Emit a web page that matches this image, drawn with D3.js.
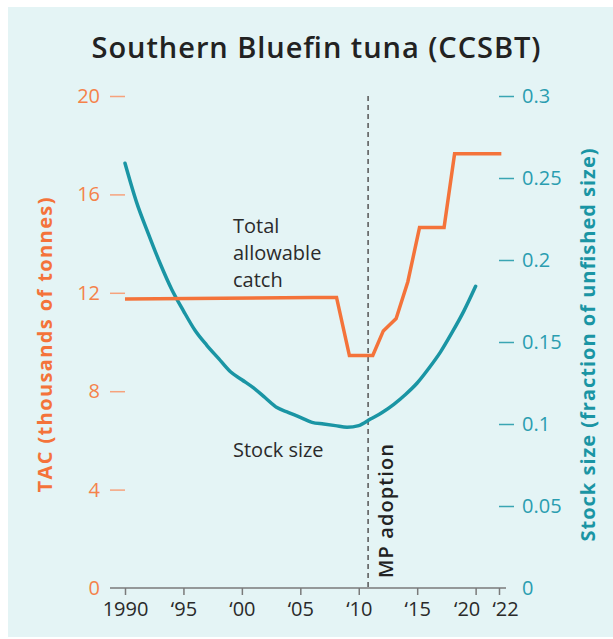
<!DOCTYPE html>
<html>
<head>
<meta charset="utf-8">
<script src="https://cdn.jsdelivr.net/npm/d3@7"></script>
<style>
  body { margin: 0; background: #fff; }
  svg text { font-family: "Open Sans", "Noto Sans", sans-serif; }
</style>
</head>
<body>
<div id="chart"></div>
<script>
// TAC in thousands of tonnes (step line)
var tacYears = [1990, 2006.1, 2008.1, 2009.2, 2011.2, 2012.1, 2013.2, 2014.2, 2015.2, 2017.3, 2018.2, 2022.2];
var tacValues = [11.75, 11.81, 11.81, 9.45, 9.45, 10.45, 10.95, 12.45, 14.65, 14.65, 17.65, 17.65];

// stock size, fraction of unfished
var stockYears = [1990, 1991, 1992, 1993, 1994, 1995, 1996, 1997, 1998, 1999, 2000, 2001, 2002, 2003, 2004, 2005,
  2006, 2007, 2008, 2009, 2010, 2011, 2012, 2013, 2014, 2015, 2016, 2017, 2018, 2019, 2020];
var stockValues = [0.259, 0.235, 0.216, 0.198, 0.182, 0.169, 0.157, 0.148, 0.140, 0.132, 0.127, 0.122, 0.116, 0.110,
  0.107, 0.104, 0.101, 0.100, 0.099, 0.098, 0.099, 0.103, 0.107, 0.112, 0.118, 0.125, 0.134, 0.144, 0.156, 0.169, 0.184];

var xTicks = [1990, 1995, 2000, 2005, 2010, 2015, 2020, 2022];
var tacTicks = [0, 4, 8, 12, 16, 20];
var stockTicks = [0, 0.05, 0.1, 0.15, 0.2, 0.25, 0.3];
var mpYear = 2010.8;

var width = 613, height = 639;
var orange = "#f4733a", teal = "#1a95a4";

var svg = d3.select("#chart").append("svg")
    .attr("width", width)
    .attr("height", height);

svg.append("rect")
    .attr("x", 8).attr("y", 7)
    .attr("width", width - 8).attr("height", 630)
    .attr("fill", "#e4f4f5");

var x = d3.scaleLinear().domain([1990, 2022]).range([125, 499]),
    yL = d3.scaleLinear().domain([0, 20]).range([588, 96]),
    yR = d3.scaleLinear().domain([0, 0.3]).range([588, 96]);

svg.append("text")
    .attr("x", 316).attr("y", 58)
    .attr("text-anchor", "middle")
    .attr("font-size", 29)
    .attr("font-weight", 600)
    .attr("fill", "#222")
    .attr("textLength", 449)
    .attr("lengthAdjust", "spacing")
    .text("Southern Bluefin tuna (CCSBT)");

// x axis
var xAxis = svg.append("g")
    .attr("transform", "translate(0,588)")
    .call(d3.axisBottom(x).tickValues(xTicks).tickSize(7).tickPadding(7)
      .tickFormat(function(d) { return d == 1990 ? "1990" : "\u2018" + String(d).slice(2); }));
xAxis.select(".domain").attr("d", "M110,0H506").attr("stroke", "#7a7a7a").attr("stroke-width", 1.5);
xAxis.selectAll(".tick line").attr("stroke", "#7a7a7a").attr("stroke-width", 1.5);
xAxis.selectAll(".tick text").attr("font-size", 20).attr("fill", "#2a2a2a").attr("font-family", "Open Sans")
    .attr("dx", function(d) { return d == 2020 ? -9 : d == 2022 ? 6 : 0; });

// left axis
var lAxis = svg.append("g")
    .attr("transform", "translate(" + x(1990) + ",0)")
    .call(d3.axisLeft(yL).tickValues(tacTicks).tickSize(15).tickPadding(10));
lAxis.select(".domain").remove();
lAxis.selectAll(".tick line").attr("stroke", "#f6a27c").attr("stroke-width", 1.5);
lAxis.selectAll(".tick text").attr("font-size", 20).attr("fill", "#f5824a").attr("font-family", "Open Sans");
lAxis.selectAll(".tick").filter(function(d) { return d == 0; }).select("line").remove();

// right axis
var rAxis = svg.append("g")
    .attr("transform", "translate(" + x(2022) + ",0)")
    .call(d3.axisRight(yR).tickValues(stockTicks).tickSize(15).tickPadding(8)
      .tickFormat(function(d) { return String(d); }));
rAxis.select(".domain").remove();
rAxis.selectAll(".tick line").attr("stroke", "#3aa5b3").attr("stroke-width", 1.5);
rAxis.selectAll(".tick text").attr("font-size", 20).attr("fill", "#2a9db0").attr("font-family", "Open Sans");
rAxis.selectAll(".tick").filter(function(d) { return d == 0; }).select("line").remove();

// axis titles
svg.append("text")
    .attr("transform", "translate(52,345) rotate(-90)")
    .attr("text-anchor", "middle")
    .attr("font-size", 20)
    .attr("font-weight", 700)
    .attr("fill", orange)
    .attr("textLength", 295)
    .attr("lengthAdjust", "spacing")
    .text("TAC (thousands of tonnes)");

svg.append("text")
    .attr("transform", "translate(595,345) rotate(-90)")
    .attr("text-anchor", "middle")
    .attr("font-size", 20)
    .attr("font-weight", 700)
    .attr("fill", teal)
    .attr("textLength", 393)
    .attr("lengthAdjust", "spacing")
    .text("Stock size (fraction of unfished size)");

// MP adoption line
svg.append("line")
    .attr("x1", x(mpYear)).attr("x2", x(mpYear))
    .attr("y1", yL(20)).attr("y2", yL(0))
    .attr("stroke", "#555")
    .attr("stroke-width", 1.5)
    .attr("stroke-dasharray", "5,4");

svg.append("text")
    .attr("transform", "translate(" + (x(mpYear) + 25) + ",578) rotate(-90)")
    .attr("font-size", 20)
    .attr("font-weight", 600)
    .attr("fill", "#222")
    .attr("textLength", 134)
    .attr("lengthAdjust", "spacing")
    .text("MP adoption");

var stockLine = d3.line()
    .x(function(d, i) { return x(stockYears[i]); })
    .y(function(d) { return yR(d); })
    .curve(d3.curveMonotoneX);

var tacLine = d3.line()
    .x(function(d, i) { return x(tacYears[i]); })
    .y(function(d) { return yL(d); });

svg.append("path")
    .datum(stockValues)
    .attr("fill", "none")
    .attr("stroke", teal)
    .attr("stroke-width", 3.5)
    .attr("stroke-linecap", "round")
    .attr("d", stockLine);

svg.append("path")
    .datum(tacValues)
    .attr("fill", "none")
    .attr("stroke", orange)
    .attr("stroke-width", 3.5)
    .attr("d", tacLine);

// labels
var tacLabel = svg.append("text")
    .attr("font-size", 20)
    .attr("fill", "#2b2b2b");
["Total", "allowable", "catch"].forEach(function(s, i) {
  tacLabel.append("tspan").attr("x", 233).attr("y", 233 + i * 27).text(s);
});

svg.append("text")
    .attr("x", 233).attr("y", 457)
    .attr("font-size", 20)
    .attr("fill", "#2b2b2b")
    .text("Stock size");
</script>
</body>
</html>
